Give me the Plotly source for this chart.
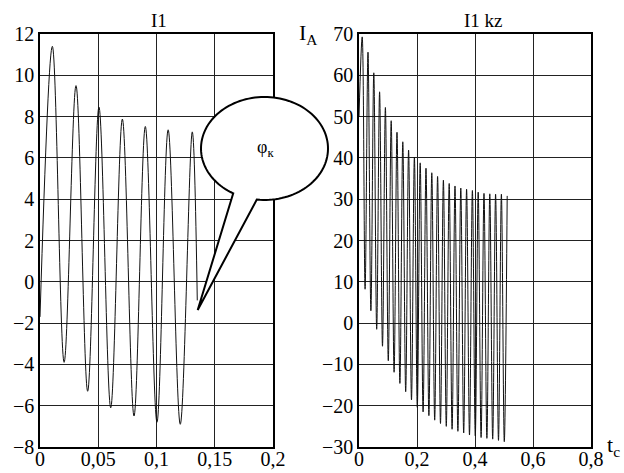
import numpy as np
import plotly.graph_objects as go

# ---------------- data ----------------
# Left chart "I1"
i1_t = [0.0, 0.0106, 0.0207, 0.0309, 0.0409, 0.0506, 0.0607, 0.0707, 0.0807,
        0.0904, 0.1004, 0.1100, 0.1204, 0.1307, 0.1350]
i1_v = [-1.7, 11.4, -3.9, 9.5, -5.3, 8.46, -6.1, 7.88, -6.5, 7.52, -6.8, 7.36,
        -6.9, 7.26, -0.9]

# Right chart "I1 kz": start point, peaks and troughs
kz_start_t = [0.0]
kz_start_v = [50.0]
kz_peak_t = [0.011, 0.031, 0.051, 0.071, 0.091, 0.111, 0.131, 0.151, 0.171,
             0.191, 0.211, 0.231, 0.251, 0.271, 0.291, 0.311, 0.331, 0.351,
             0.371, 0.391, 0.411, 0.431, 0.451, 0.471, 0.491, 0.511]
kz_peak_v = [69.3, 65.6, 60.6, 56.0, 52.2, 49.0, 46.2, 43.9, 41.9, 40.2, 38.8,
             37.5, 36.4, 35.5, 34.6, 33.8, 33.2, 32.7, 32.4, 32.1, 31.7, 31.4,
             31.3, 31.2, 31.2, 30.8]
kz_trough_t = [0.021, 0.041, 0.061, 0.081, 0.101, 0.121, 0.141, 0.161, 0.181,
               0.201, 0.221, 0.241, 0.261, 0.281, 0.301, 0.321, 0.341, 0.361,
               0.381, 0.401, 0.421, 0.441, 0.461, 0.481, 0.501]
kz_trough_v = [8.2, 3.0, -1.5, -5.6, -9.1, -11.9, -14.6, -16.6, -18.6, -20.4,
               -21.5, -22.4, -23.5, -24.3, -25.0, -25.7, -26.2, -26.6, -27.1,
               -27.3, -27.7, -27.9, -28.1, -28.4, -28.7]

# tick labels
left_x_vals = [0, 0.05, 0.1, 0.15, 0.2]
left_x_text = ["0", "0,05", "0,1", "0,15", "0,2"]
left_y_vals = [-8, -6, -4, -2, 0, 2, 4, 6, 8, 10, 12]
left_y_text = ["\u22128", "\u22126", "\u22124", "\u22122", "0", "2", "4", "6", "8", "10", "12"]
right_x_vals = [0, 0.2, 0.4, 0.6, 0.8]
right_x_text = ["0", "0,2", "0,4", "0,6", "0,8"]
right_y_vals = [-30, -20, -10, 0, 10, 20, 30, 40, 50, 60, 70]
right_y_text = ["\u221230", "\u221220", "\u221210", "0", "10", "20", "30", "40", "50", "60", "70"]

# ---------------- figure ----------------
W, H = 624, 473
L, R, T, B = 40, 591, 34, 447          # plot area in page pixels
ML, MT, MR, MB = L, T, W - R, H - B
PW, PH = R - L, B - T

def px(x):
    return (x - L) / PW

def py(y):
    return (B - y) / PH

kz = sorted(zip(kz_start_t + kz_peak_t + kz_trough_t,
                kz_start_v + kz_peak_v + kz_trough_v))
kz_t = [p[0] for p in kz]
kz_v = [p[1] for p in kz]

FONT = "Liberation Serif"
line_style = dict(color="#111", width=1, shape="spline", smoothing=1)

fig = go.Figure()
fig.add_trace(go.Scatter(x=i1_t, y=i1_v, mode="lines", line=line_style,
                         xaxis="x", yaxis="y", showlegend=False, hoverinfo="skip"))
fig.add_trace(go.Scatter(x=kz_t, y=kz_v, mode="lines", line=line_style,
                         xaxis="x2", yaxis="y2", showlegend=False, hoverinfo="skip"))

axis_common = dict(showline=True, mirror=True, linecolor="black", linewidth=1.5,
                   showgrid=True, gridcolor="#222", gridwidth=1, zeroline=False,
                   ticks="", automargin=False,
                   tickfont=dict(family=FONT, size=20, color="black"),
                   fixedrange=True)
xaxis_extra = dict(ticklabelstandoff=-7)

fig.update_layout(
    width=W, height=H,
    margin=dict(l=ML, r=MR, t=MT, b=MB, autoexpand=False),
    paper_bgcolor="white", plot_bgcolor="white",
    font=dict(family=FONT, color="black", size=19),
    xaxis=dict(domain=[0, px(273)], range=[0, 0.2], tickvals=left_x_vals,
               ticktext=left_x_text, anchor="y", **axis_common, **xaxis_extra),
    yaxis=dict(range=[-8, 12], tickvals=left_y_vals, ticktext=left_y_text,
               anchor="x", **axis_common),
    xaxis2=dict(domain=[px(359), 1], range=[0, 0.8], tickvals=right_x_vals,
                ticktext=right_x_text, anchor="y2", **axis_common, **xaxis_extra),
    yaxis2=dict(range=[-30, 70], tickvals=right_y_vals, ticktext=right_y_text,
                anchor="x2", **axis_common),
)

# speech bubble (decoration) in paper coordinates
cx, cy, rx, ry = 264.5, 148.5, 63.5, 51.5
a = np.radians(np.linspace(119.5, 457.0, 120))
pts = [(cx + rx * np.cos(t), cy + ry * np.sin(t)) for t in a]
tip = (197.7, 310.0)
path = "M " + " L ".join(f"{px(x):.5f},{py(y):.5f}" for x, y in pts)
path += f" L {px(tip[0]):.5f},{py(tip[1]):.5f} Z"
fig.add_shape(type="path", path=path, xref="paper", yref="paper",
              line=dict(color="black", width=2), fillcolor="white", layer="above")

ann = [
    dict(text="I1", x=px(159), y=py(20)),
    dict(text="I1 kz", x=px(483), y=py(20)),
    dict(text="I<sub>A</sub>", x=px(308), y=py(34), size=22),
    dict(text="t<sub>\u0441</sub>", x=px(613), y=py(446), size=22),
    dict(text="\u03c6<sub>\u043a</sub>", x=px(265), y=py(148), size=18),
]
for an in ann:
    fig.add_annotation(text=an["text"], x=an["x"], y=an["y"], xref="paper",
                       yref="paper", showarrow=False, xanchor="center",
                       yanchor="middle",
                       font=dict(family=FONT, size=an.get("size", 19), color="black"))

fig.write_html("out.html",
               config={"displayModeBar": False},
               post_script="document.body.style.margin='0';"
                           "document.body.style.overflow='hidden';")
